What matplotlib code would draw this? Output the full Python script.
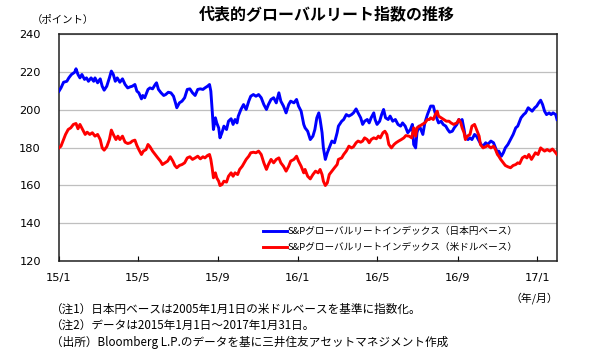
import matplotlib
matplotlib.use("Agg")
import matplotlib.pyplot as plt
import pandas as pd

# ---------------- data ----------------
START = "2015-01-01"

# S&P Global REIT index, JPY basis (days since 2015-01-01, value)
jpy_day = [0, 3, 7, 12, 15, 19, 24, 26, 29, 32, 35, 39, 42, 45, 49, 53, 55, 59, 63, 66,
           69, 73, 77, 80, 83, 86, 89, 93, 97, 101, 105, 109, 112, 116, 119, 122, 126, 128, 131, 133,
           136, 139, 143, 147, 149, 152, 156, 160, 163, 167, 171, 175, 178, 180, 184, 188, 192,
           196, 200, 204, 208, 212, 216, 220, 223, 227, 230, 232, 234, 236, 239, 241, 244, 246, 249,
           252, 256, 259, 263, 266, 269, 272, 274, 278, 282, 286, 290, 293, 297, 301, 305, 309, 313,
           317, 320, 324, 328, 332, 336, 339, 343, 347, 351, 354, 359, 363, 366, 370, 374,
           376, 380, 384, 388, 391, 394, 397, 399, 402, 404, 407, 410, 413, 417, 421, 425, 427, 432,
           435, 439, 443, 447, 450, 454, 457, 461, 464, 467, 471, 474, 477, 481, 483, 486, 490, 493,
           496, 499, 503, 506, 510, 514, 518, 522, 525, 529, 533, 537, 540, 542, 545, 547, 550, 552,
           556, 559, 563, 566,
           568, 572, 574, 577, 580, 584, 587, 591, 594, 597, 601, 604, 608, 611, 614, 616, 619, 621,
           625, 628, 631, 635, 638, 642, 645, 648, 652, 655, 660, 664, 667, 670, 672, 676, 679, 682,
           686, 690, 694, 698, 701, 704, 706, 710, 713, 717, 720, 723, 727, 730, 733, 736, 739, 742,
           745, 749, 752, 755, 759, 761]
jpy_val = [209.8, 211.5, 214.5, 215.0, 216.8, 218.6, 219.8, 221.6, 218.6, 216.8, 218.6, 216.0, 216.8,
           215.0, 216.8, 215.0, 216.8, 214.2, 216.3, 212.4, 210.3, 212.4, 216.8, 220.4, 218.6, 215.0,
           216.8, 214.5, 216.3, 213.3, 211.5, 212.1, 212.4, 213.3, 209.8, 208.9, 205.7, 207.5, 206.3,
           208.0, 210.7, 211.5, 211.0, 213.3, 214.2, 210.7, 208.9, 207.5, 208.0, 209.2, 208.9, 207.1,
           203.6, 201.0, 203.6, 204.5, 206.3,
           210.7, 211.0, 208.9, 207.5, 210.7, 211.0, 210.7, 211.5, 212.4, 213.3, 209.8, 200.1, 189.5,
           195.7, 193.0, 190.4, 185.1, 187.8, 191.3, 189.5, 193.9, 195.2, 192.2, 194.8, 193.0, 196.6,
           200.1, 202.7, 200.1, 204.5, 207.1, 208.0, 207.1, 208.0, 206.3, 202.7, 200.1, 202.7, 205.4,
           206.3, 203.6, 208.9, 204.5, 201.9, 198.3, 202.7, 204.5, 203.6, 205.4, 201.9, 199.2, 192.2,
           190.4, 188.6, 184.2, 186.0, 189.5, 195.7, 198.3, 194.8, 187.8, 179.8, 173.7, 177.2, 179.8,
           183.4, 182.5, 187.8, 191.3, 193.9, 194.8, 197.4, 196.6, 197.4, 198.3, 200.4, 198.3, 195.7,
           192.2, 193.9, 194.8, 193.0, 195.7, 198.3, 194.8, 192.2, 193.9, 197.4, 200.1, 195.7, 194.8,
           196.6, 193.9, 194.8, 192.2, 191.3, 193.0, 191.3, 187.8, 189.5, 192.2, 181.6, 179.8, 187.8,
           191.3, 190.4, 186.9, 193.0, 197.4, 200.1,
           201.9, 201.9, 199.2, 195.7, 193.0, 193.9, 192.2, 191.3, 189.5, 188.1, 188.6, 190.4, 192.2,
           194.8, 193.9, 194.8, 189.5, 185.1, 184.2, 185.1, 184.2, 186.9, 186.0, 183.4, 181.6, 180.7,
           182.5, 181.6, 183.4, 182.5, 179.8, 177.2, 178.1, 175.4, 177.2, 179.8, 181.6, 184.2, 186.9,
           190.4, 191.3, 193.9, 195.7, 197.4, 198.3, 201.0, 200.1, 199.2, 201.0, 201.9, 203.6, 205.0,
           202.7, 199.2, 197.4, 198.3, 197.4, 198.3, 197.4, 194.8]

# S&P Global REIT index, USD basis
usd_day = [0, 3, 7, 10, 14, 18, 22, 26, 29, 32, 36, 40, 43, 47, 51, 55, 59, 63, 66, 69,
           73, 77, 80, 83, 87, 90, 93, 97, 101, 105, 109, 112, 116, 119, 122, 126, 129, 133, 136, 139,
           143, 147, 151, 155, 158, 162, 166, 170, 174, 177, 180, 184, 188, 192,
           196, 200, 204, 208, 212, 216, 220, 223, 227, 230, 232, 234, 236, 239, 241, 244, 246, 249,
           252, 256, 259, 263, 266, 269, 273, 276, 280, 283, 286, 290, 293, 297, 301, 305, 309, 313,
           317, 320, 324, 328, 332, 336, 339, 343, 347, 351, 354, 359, 363, 366, 370, 374,
           376, 380, 384, 388, 392, 396, 399, 402, 404, 407, 410, 413, 417, 421, 425, 427, 432, 435,
           439, 443, 447, 450, 454, 457, 461, 464, 467, 471, 474, 477, 481, 485, 488, 491, 495, 498,
           501, 504, 508, 512, 515, 519, 523, 527, 530, 535, 539, 542, 545, 547, 551, 555, 559, 563, 566,
           568, 572, 575, 578, 580, 584, 588, 592, 596, 599, 603, 608, 611, 614, 616, 619, 621, 624,
           628, 631, 635, 638, 642, 644, 648, 652, 655, 660, 664, 667, 670, 672, 675, 679, 682, 686,
           690, 694, 698, 701, 704, 708, 712, 715, 718, 722, 725, 728, 732, 736, 739, 742, 746, 750,
           754, 757, 761]
usd_val = [179.8, 180.7, 184.2, 186.9, 189.5, 190.4, 192.2, 192.7, 189.9, 192.2, 189.5, 186.9, 188.1,
           186.9, 187.8, 186.0, 186.9, 184.2, 179.8, 178.6, 180.4, 184.2, 189.2, 186.9, 184.2, 186.0,
           184.2, 186.0, 182.8, 182.1, 182.5, 183.4, 183.9, 181.1, 178.9, 176.3, 178.1, 178.9, 181.6,
           180.4, 178.1, 176.3, 174.5, 172.8, 171.0, 171.9, 172.8, 175.1, 172.8, 170.5, 169.3, 170.5,
           171.0, 171.9,
           174.5, 175.1, 173.7, 174.5, 175.4, 174.0, 175.1, 174.5, 175.8, 176.3, 173.7, 169.3, 164.0,
           166.6, 164.0, 162.2, 159.9, 160.4, 162.2, 161.7, 164.8, 166.6, 164.8, 166.6, 165.7, 168.4,
           170.1, 171.9, 173.7, 175.4, 177.2, 177.5, 177.2, 178.1, 176.3, 171.9, 168.4, 171.0, 173.7,
           171.9, 173.7, 174.5, 171.9, 170.1, 167.5, 170.1, 172.8, 173.7, 175.4, 172.8, 170.1, 166.6,
           168.4, 164.8, 163.4, 165.7, 167.5, 166.6, 168.4, 165.7, 162.2, 159.9, 161.3, 165.7, 167.5,
           169.3, 171.0, 173.7, 174.5, 176.3, 178.1, 180.7, 179.8, 180.4, 182.5, 183.4, 182.8, 183.4,
           185.1, 184.2, 182.5, 184.2, 185.1, 184.6, 186.0, 185.1, 187.8, 188.6, 186.9, 181.6, 179.8,
           181.6, 182.5, 183.4, 184.2, 185.1, 186.3, 186.0, 185.1, 190.4, 186.0, 190.4, 191.3, 192.2,
           193.0, 194.8, 194.8,
           195.7, 194.8, 197.4, 199.2, 196.6, 195.7, 194.8, 193.9, 193.9, 193.0, 192.2, 193.0, 194.8,
           193.0, 190.4, 187.8, 184.2, 186.0, 186.9, 191.3, 192.2, 189.5, 186.0, 181.6, 179.8, 180.4,
           181.1, 179.8, 180.7, 178.9, 176.3, 175.4, 173.7, 171.9, 170.5, 169.8, 169.3, 170.5, 171.0,
           171.9, 171.5, 174.5, 175.4, 174.5, 176.3, 173.7, 175.4, 177.2, 176.3, 179.8, 178.9, 178.1,
           178.9, 178.1, 179.2, 178.1, 176.3]

series_labels = ["S&Pグローバルリートインデックス（日本円ベース）",
                 "S&Pグローバルリートインデックス（米ドルベース）"]
x_tick_dates = ["2015-01-01", "2015-05-01", "2015-09-01", "2016-01-01",
                "2016-05-01", "2016-09-01", "2017-01-01"]
x_tick_labels = ["15/1", "15/5", "15/9", "16/1", "16/5", "16/9", "17/1"]
x_range = ["2015-01-01", "2017-01-31"]
y_ticks = [120, 140, 160, 180, 200, 220, 240]

title = "代表的グローバルリート指数の推移"
y_unit = "（ポイント）"
x_unit = "（年/月）"
notes = ["（注1）日本円ベースは2005年1月1日の米ドルベースを基準に指数化。",
         "（注2）データは2015年1月1日～2017年1月31日。",
         "（出所）Bloomberg L.P.のデータを基に三井住友アセットマネジメント作成"]

# ---------------- plotting ----------------
JP = ["Noto Sans CJK JP", "DejaVu Sans"]
plt.rcParams["font.family"] = ["DejaVu Sans", "Noto Sans CJK JP"]

W, H = 594, 352
fig = plt.figure(figsize=(W / 100, H / 100), dpi=100)
ax = fig.add_axes([59 / W, 1 - 261 / H, (557 - 59) / W, (261 - 34) / H])

t0 = pd.Timestamp(START)
jpy_x = t0 + pd.to_timedelta(jpy_day, unit="D")
usd_x = t0 + pd.to_timedelta(usd_day, unit="D")

ax.plot(jpy_x, jpy_val, color="#0000FF", lw=2.1, solid_joinstyle="round", label=series_labels[0], zorder=3)
ax.plot(usd_x, usd_val, color="#FF0000", lw=2.1, solid_joinstyle="round", label=series_labels[1], zorder=3)

ax.set_xlim(pd.Timestamp(x_range[0]), pd.Timestamp(x_range[1]))
ax.set_ylim(y_ticks[0], y_ticks[-1])
ax.set_yticks(y_ticks)
ax.set_xticks(pd.to_datetime(x_tick_dates))
ax.set_xticklabels(x_tick_labels)

ax.grid(axis="y", color="#BFBFBF", lw=0.9, zorder=1)
for s in ax.spines.values():
    s.set_color("#202020")
    s.set_linewidth(1.1)
ax.tick_params(axis="x", direction="in", length=3.5, width=0.8, pad=9, labelsize=8.2)
ax.tick_params(axis="y", length=0, pad=13, labelsize=8.2)

leg = ax.legend(loc="upper left", bbox_to_anchor=((263 - 59) / 498, (261 - 227) / 227),
                frameon=False, prop={"family": JP, "size": 6.9}, handlelength=2.5,
                handletextpad=0.1, labelspacing=0.68, borderpad=0, borderaxespad=0)

fig.text(0.5 + (327 - 297) / W, 1 - 14 / H, title, ha="center", va="center",
         fontsize=11.5, fontweight="bold", family=JP)
fig.text(32 / W, 1 - 20 / H, y_unit, ha="left", va="center", fontsize=7.5, family=JP)
fig.text(558 / W, 1 - 298 / H, x_unit, ha="right", va="center", fontsize=7.8, family=JP)
for i, n in enumerate(notes):
    fig.text(51 / W, 1 - (309 + i * 16.8) / H, n, ha="left", va="center", fontsize=8.35, family=JP)

fig.savefig("out.png", dpi=100)
